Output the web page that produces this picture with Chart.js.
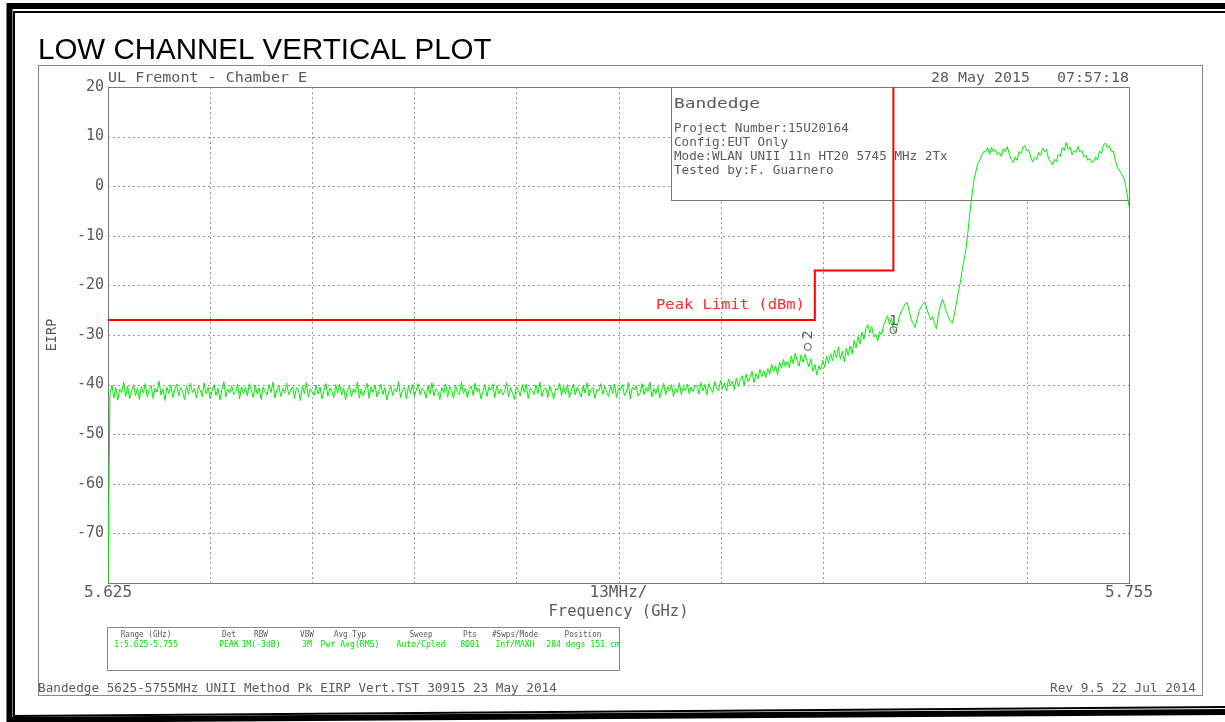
<!DOCTYPE html>
<html lang="en">
<head>
  <meta charset="UTF-8" />
  <title>Low Channel Vertical Plot</title>
  <script src="https://cdn.jsdelivr.net/npm/chart.js"></script>
  <style>
    html, body { margin: 0; padding: 0; background: #fff; }
    #wrap { position: relative; width: 1225px; height: 722px; }
  </style>
</head>
<body>
<div id="wrap"><canvas id="plot" width="1225" height="722"></canvas></div>

<script>
  // sweep: 5.625 .. 5.755 GHz, one reading every 0.25 MHz (max hold)
  const freqStart = 5.625;
  const freqStep = 0.00025;
  const traceVals = [
    -80.0,
    // noise floor
    -41.9, -40.1, -42.7, -40.6, -43.1, -40.9, -41.6, -39.5, -42.4, -40.3, -42.9, -41.2, -40.0, -42.2, -40.8, -43.0,
    -40.4, -41.7, -39.8, -42.5, -41.0, -40.2, -42.8, -40.7, -41.5, -39.3, -42.1, -40.9, -43.2, -40.5, -41.8, -40.1,
    -42.6, -41.1, -39.9, -42.3, -40.6, -41.4, -43.0, -40.2, -42.0, -39.7, -41.6, -40.8, -42.7, -40.3, -41.2, -42.4,
    -39.6, -41.9, -40.5, -42.8, -41.3, -40.0, -42.2, -40.7, -43.1, -41.0, -39.4, -42.5, -40.9, -41.7, -40.2, -42.0,
    -41.5, -39.9, -42.9, -40.4, -41.8, -40.6, -42.3, -39.8, -41.2, -42.6, -40.1, -41.9, -40.7, -43.0, -40.5, -41.4,
    -42.1, -40.0, -41.6, -39.5, -42.7, -41.1, -40.3, -42.4, -40.8, -41.7, -39.7, -42.0, -41.3, -40.4, -42.8, -40.6,
    -41.0, -43.2, -40.2, -41.8, -39.6, -42.5, -40.9, -41.5, -42.2, -40.1, -41.9, -40.5, -42.9, -41.2, -39.8, -42.3,
    -40.7, -41.4, -42.6, -40.0, -41.7, -39.9, -42.1, -40.6, -43.0, -41.1, -40.3, -42.4, -40.8, -41.6, -39.5, -42.7,
    -40.9, -42.3, -41.0, -39.7, -42.8, -40.4, -41.6, -40.1, -42.5, -41.3, -39.9, -42.0, -40.6, -43.1, -41.4, -40.2,
    -42.2, -40.8, -41.5, -39.4, -42.6, -41.0, -40.5, -42.9, -40.3, -41.8, -40.0, -42.4, -41.1, -39.8, -42.1, -40.7,
    -41.3, -42.7, -40.2, -41.9, -39.6, -42.3, -40.9, -41.4, -43.0, -40.6, -41.7, -39.9, -42.5, -40.4, -41.2, -42.8,
    -40.1, -41.6, -42.0, -39.5, -41.8, -40.7, -42.6, -41.0, -40.3, -42.2, -39.7, -41.5, -40.8, -42.9, -41.3, -40.0,
    -42.4, -40.5, -41.1, -39.8, -42.7, -40.2, -41.9, -40.9, -42.1, -41.4, -39.6, -42.5, -40.6, -41.7, -43.0, -40.4,
    -41.2, -42.3, -40.0, -41.6, -39.9, -42.8, -40.7, -41.3, -42.0, -40.1, -41.8, -39.5, -42.4, -41.0, -40.6, -42.6,
    -40.3, -41.5, -42.9, -40.8, -41.1, -39.7, -42.2, -40.4, -41.9, -40.0, -42.7, -41.2, -39.9, -42.1, -40.5, -41.4,
    -42.5, -40.2, -41.7, -39.6, -42.3, -41.0, -40.6, -42.8, -40.9, -41.3, -39.8, -42.0, -40.3, -41.6, -42.4, -40.1,
    -41.8, -39.9, -42.6, -40.7, -41.2, -40.0, -42.2, -41.5, -39.6, -42.9, -40.5, -41.1, -40.2, -42.3, -41.7, -39.8,
    -42.0, -40.6, -41.4, -39.5, -42.5, -40.8, -41.9, -40.3, -42.7, -41.0, -39.7, -42.1, -40.4, -41.3, -40.0, -42.4,
    -40.7, -41.6, -39.6, -42.0, -40.4, -41.2, -39.9, -41.8, -40.5, -41.4, -40.1,
    // skirt of the channel
    -40.2, -41.9, -39.6, -41.3, -40.0, -42.1, -39.8, -40.9, -41.6, -39.4, -40.7, -41.2,
    -39.1, -40.8, -39.7, -41.3, -38.9, -40.2, -39.3, -41.0, -38.7, -40.4,
    -39.0, -38.2, -40.1, -37.9, -39.4, -38.5, -37.3, -39.6, -37.8, -38.9, -36.9, -38.4, -37.2,
    -38.6, -36.8, -37.9, -35.9, -37.4, -36.2, -38.0, -35.5, -36.7, -34.9, -36.4, -35.3,
    -36.6, -34.2, -35.8, -33.7, -35.1, -36.3, -34.0, -35.5, -33.9,
    -35.2, -36.4, -34.8, -37.3, -35.9, -38.1, -36.2,
    -37.0, -35.1, -36.5, -34.3, -35.7, -33.8,
    -35.2, -33.0, -34.6, -32.4, -34.9, -33.3, -35.4, -32.7, -34.1,
    -32.2, -33.8, -31.1, -32.6, -30.3, -31.8, -29.4, -30.9, -28.6,
    -27.9, -29.6, -28.3, -30.4, -29.8,
    -31.2, -29.3, -30.0, -28.1, -27.0,
    -26.1, -27.8, -26.6, -28.9, -29.5,
    -28.2, -26.4, -25.2, -24.5, -23.7,
    -23.4, -25.1, -26.8, -27.6,
    -28.5, -26.9, -25.3, -24.4, -23.8,
    -23.3, -24.7, -25.9, -27.0, -26.2, -27.9,
    -28.7, -25.6, -24.0,
    -22.8, -23.9, -25.4, -26.3, -27.2,
    -27.6, -26.0, -23.8, -21.5,
    -19.6, -17.0, -14.8, -12.6, -9.1, -5.2,
    // in-band
    -1.9, 1.2, 2.9, 4.6, 5.3, 6.2, 7.0,
    6.9, 7.8, 6.4, 7.8, 6.9, 7.4, 6.3,
    6.8, 6.0, 7.6, 7.0, 8.0, 6.5, 5.4,
    4.8, 5.9, 5.2, 7.0, 6.6, 7.9,
    8.2, 7.1, 7.3, 5.7, 4.9, 5.8,
    5.4, 6.8, 6.2, 7.7, 6.9, 7.4, 5.6, 5.0,
    4.3, 5.4, 4.9, 6.4, 6.0, 7.8, 7.2,
    8.8, 7.4, 7.9, 6.3, 7.2, 6.8,
    8.0, 6.9, 7.3, 5.9, 6.3, 5.2, 5.6, 4.8,
    4.9, 5.9, 5.3, 7.1, 6.6, 8.3,
    8.7, 7.7, 8.2, 6.9, 7.1, 5.2, 3.9,
    3.3, 2.6, 1.9, 0.8, -1.6, -4.0
  ];

  // peak limit line (dBm)
  const limitFreqs = [5.625, 5.715, 5.715, 5.725, 5.725];
  const limitVals = [-27, -27, -17, -17, 20];

  // markers
  const markerFreqs = [5.725, 5.7141];
  const markerVals = [-29.0, -32.4];
  const markerNames = ['1', '2'];

  // axes
  const xTickVals = [5.625, 5.690, 5.755];
  const xTickLabels = ['5.625', '13MHz/', '5.755'];
  const xGridStep = 0.013;
  const yMin = -80, yMax = 20, yStep = 10;

  // header / info texts
  const siteText = 'UL Fremont - Chamber E';
  const dateText = '28 May 2015   07:57:18';
  const boxTitle = 'Bandedge';
  const boxLines = [
    'Project Number:15U20164',
    'Config:EUT Only',
    'Mode:WLAN UNII 11n HT20 5745 MHz 2Tx',
    'Tested by:F. Guarnero'
  ];
  const tableHeads = ['Range (GHz)', 'Det', 'RBW', 'VBW', 'Avg Typ', 'Sweep', 'Pts', '#Swps/Mode', 'Position'];
  const tableVals = ['1:5.625-5.755', 'PEAK', '1M(-3dB)', '3M', 'Pwr Avg(RMS)', 'Auto/Cpled', '8001', 'Inf/MAXH', '284 degs 151 cm'];
  const footLeft = 'Bandedge 5625-5755MHz UNII Method Pk EIRP Vert.TST 30915 23 May 2014';
  const footRight = 'Rev 9.5 22 Jul 2014';

  const GREY = '#5a5a5a';
  const MONO = '"DejaVu Sans Mono", "Liberation Mono", monospace';

  // plotter style text: monospace stretched to a given character width
  function hp(ctx, s, x, y, size, cw, color, align) {
    ctx.save();
    ctx.font = size + 'px ' + MONO;
    ctx.fillStyle = color;
    ctx.textBaseline = 'alphabetic';
    ctx.textAlign = 'left';
    const sx = cw / ctx.measureText('0').width;
    const w = ctx.measureText(s).width * sx;
    const x0 = align === 'right' ? x - w : (align === 'center' ? x - w / 2 : x);
    ctx.translate(x0, y);
    ctx.scale(sx, 1);
    ctx.fillText(s, 0, 0);
    ctx.restore();
  }

  const frame = {
    id: 'frame',
    beforeDraw(chart) {
      const ctx = chart.ctx;
      ctx.save();
      // page border (thick + thin, bottom slightly skewed like the scan)
      ctx.strokeStyle = '#000';
      ctx.lineWidth = 6;
      ctx.beginPath();
      ctx.moveTo(1225, 6); ctx.lineTo(9.5, 6); ctx.lineTo(9.5, 722);
      ctx.moveTo(7, 720); ctx.lineTo(1225, 712);
      ctx.stroke();
      ctx.lineWidth = 2;
      ctx.beginPath();
      ctx.moveTo(1225, 12); ctx.lineTo(14, 12); ctx.lineTo(14, 716);
      ctx.lineTo(1225, 707);
      ctx.stroke();

      // title
      ctx.fillStyle = '#000';
      ctx.font = '29.5px "Liberation Sans", Arial, sans-serif';
      ctx.textBaseline = 'alphabetic';
      ctx.fillText('LOW CHANNEL VERTICAL PLOT', 38, 59);

      // instrument panel
      ctx.strokeStyle = '#888';
      ctx.lineWidth = 1;
      ctx.strokeRect(38.5, 65.5, 1164, 630);

      hp(ctx, siteText, 108, 82, 13.7, 9.05, GREY, 'left');
      hp(ctx, dateText, 1129, 82, 13.7, 9.0, GREY, 'right');

      // settings table
      ctx.strokeStyle = '#888';
      ctx.strokeRect(107.5, 627.5, 512, 43);
      const cols = [146, 229, 261, 307, 350, 421, 470, 515, 583];
      tableHeads.forEach((s, i) => hp(ctx, s, cols[i], 637, 8.2, 4.6, GREY, 'center'));
      tableVals.forEach((s, i) => hp(ctx, s, cols[i], 647, 8.2, 4.9, '#00dd00', 'center'));

      hp(ctx, footLeft, 38, 692, 11.6, 7.63, GREY, 'left');
      hp(ctx, footRight, 1196, 692, 11.6, 7.68, GREY, 'right');
      ctx.restore();
    },
    beforeDatasetsDraw(chart) {
      const ctx = chart.ctx;
      const a = chart.chartArea;
      const xs = chart.scales.x, ys = chart.scales.y;
      ctx.save();
      // dotted grid
      ctx.strokeStyle = '#999';
      ctx.lineWidth = 1;
      ctx.setLineDash([2, 3]);
      ctx.beginPath();
      for (let k = 1; k < 10; k++) {
        const px = Math.round(xs.getPixelForValue(freqStart + k * xGridStep)) + 0.5;
        ctx.moveTo(px, a.top); ctx.lineTo(px, a.bottom);
      }
      for (let v = yMin + yStep; v < yMax; v += yStep) {
        const py = Math.round(ys.getPixelForValue(v)) + 0.5;
        ctx.moveTo(a.left, py); ctx.lineTo(a.right, py);
      }
      ctx.stroke();
      ctx.setLineDash([]);

      // info box
      const bx = 671, by = a.top, bw = a.right - 671, bh = 113;
      ctx.fillStyle = '#fff';
      ctx.fillRect(bx, by, bw, bh);
      ctx.strokeStyle = '#777';
      ctx.strokeRect(bx + 0.5, by + 0.5, bw, bh);
      hp(ctx, boxTitle, 674, 108, 14.3, 10.75, GREY, 'left');
      boxLines.forEach((s, i) => hp(ctx, s, 674, 132 + i * 14, 12.3, 7.6, GREY, 'left'));

      // plot frame
      ctx.strokeStyle = '#777';
      ctx.strokeRect(Math.round(a.left) + 0.5, Math.round(a.top) + 0.5,
        Math.round(a.right - a.left), Math.round(a.bottom - a.top));
      ctx.restore();
    },
    afterDatasetsDraw(chart) {
      const ctx = chart.ctx;
      const xs = chart.scales.x, ys = chart.scales.y;
      ctx.save();
      hp(ctx, 'Peak Limit (dBm)', xs.getPixelForValue(limitFreqs[1]) - 10,
        ys.getPixelForValue(limitVals[0]) - 11, 13.7, 9.3, '#ff2a2a', 'right');

      // marker numbers
      const m1x = xs.getPixelForValue(markerFreqs[0]), m1y = ys.getPixelForValue(markerVals[0]);
      hp(ctx, markerNames[0], m1x, m1y - 5, 13.7, 9, GREY, 'center');
      const m2x = xs.getPixelForValue(markerFreqs[1]), m2y = ys.getPixelForValue(markerVals[1]);
      ctx.translate(m2x + 4, m2y - 12);
      ctx.rotate(-Math.PI / 2);
      hp(ctx, markerNames[1], 0, 0, 13.7, 9, GREY, 'center');
      ctx.restore();
    }
  };

  const ctx = document.getElementById('plot').getContext('2d');
  new Chart(ctx, {
    type: 'line',
    data: {
      datasets: [
        {
          label: 'Peak Limit (dBm)',
          data: limitFreqs.map((f, i) => ({ x: f, y: limitVals[i] })),
          borderColor: '#ff0000',
          borderWidth: 2,
          pointRadius: 0,
          tension: 0
        },
        {
          label: 'Markers',
          data: markerFreqs.map((f, i) => ({ x: f, y: markerVals[i] })),
          showLine: false,
          pointStyle: 'circle',
          pointRadius: 3.5,
          borderColor: GREY,
          borderWidth: 1,
          backgroundColor: 'rgba(0,0,0,0)'
        },
        {
          label: 'Trace 1',
          data: traceVals.map((v, i) => ({ x: freqStart + i * freqStep, y: v })),
          borderColor: '#00ee00',
          borderWidth: 1,
          pointRadius: 0,
          tension: 0
        }
      ]
    },
    options: {
      responsive: false,
      animation: false,
      layout: { padding: { left: 38, top: 87, right: 96, bottom: 100 } },
      plugins: { legend: { display: false }, tooltip: { enabled: false } },
      scales: {
        x: {
          type: 'linear',
          min: freqStart,
          max: 5.755,
          grid: { display: false, drawTicks: false },
          border: { display: false },
          afterBuildTicks: s => { s.ticks = xTickVals.map(v => ({ value: v })); },
          afterFit: s => { s.height = 39; },
          ticks: {
            autoSkip: false,
            maxRotation: 0,
            padding: 0,
            color: GREY,
            font: { family: MONO, size: 16 },
            callback: (v, i) => xTickLabels[i]
          },
          title: {
            display: true,
            text: 'Frequency (GHz)',
            color: GREY,
            font: { family: MONO, size: 15.5 },
            padding: { top: 0, bottom: 1 }
          }
        },
        y: {
          min: yMin,
          max: yMax,
          grid: { display: false, drawTicks: false },
          border: { display: false },
          afterFit: s => { s.width = 70; },
          ticks: {
            stepSize: yStep,
            padding: 4,
            color: GREY,
            font: { family: MONO, size: 15 },
            callback: v => (v === yMin ? '' : String(v))
          },
          title: {
            display: true,
            text: 'EIRP',
            color: GREY,
            font: { family: MONO, size: 13.5 },
            padding: { top: 6, bottom: 0 }
          }
        }
      }
    },
    plugins: [frame]
  });
</script>
</body>
</html>
